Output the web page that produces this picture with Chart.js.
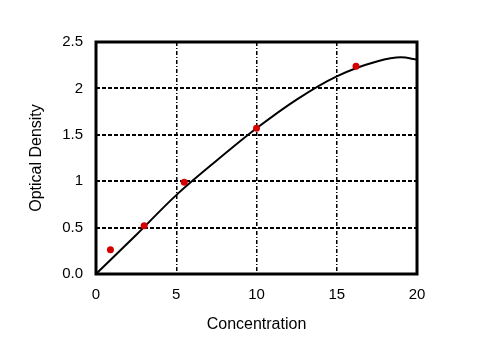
<!DOCTYPE html>
<html>
<head>
<meta charset="utf-8">
<script src="https://cdn.jsdelivr.net/npm/chart.js@4"></script>
<style>
  html, body { margin: 0; padding: 0; background: #fff; }
  #wrap { width: 484px; height: 340px; }
</style>
</head>
<body>
<div id="wrap"><canvas id="c" width="484" height="340"></canvas></div>
<script>
// Standard curve (fitted) and measured standards
const curveConc = [0, 2.5, 5, 7.5, 10, 12.5, 15, 17.5, 19, 20];
const curveOD   = [0, 0.42, 0.85, 1.22, 1.57, 1.88, 2.13, 2.29, 2.335, 2.31];
const stdConc   = [0.9, 3, 5.5, 10, 16.2];
const stdOD     = [0.26, 0.52, 0.99, 1.57, 2.24];
const xTicks    = [0, 5, 10, 15, 20];
const yTicks    = [0, 0.5, 1, 1.5, 2, 2.5];
const yTickLabels = ['0.0', '0.5', '1', '1.5', '2', '2.5'];

const toPts = (xs, ys) => xs.map((x, i) => ({ x: x, y: ys[i] }));

// Closed black frame around the plot area
const framePlugin = {
  id: 'frame',
  beforeDatasetsDraw(chart) {
    const { ctx, chartArea: a } = chart;
    ctx.save();
    ctx.strokeStyle = '#000';
    ctx.lineWidth = 3;
    ctx.strokeRect(a.left, a.top, a.right - a.left, a.bottom - a.top);
    ctx.restore();
  }
};

const tickFont = { family: 'Liberation Sans, Arial, sans-serif', size: 15 };
const titleFont = { family: 'Liberation Sans, Arial, sans-serif', size: 16 };

new Chart(document.getElementById('c'), {
  type: 'scatter',
  data: {
    datasets: [
      {
        data: toPts(curveConc, curveOD),
        showLine: true,
        borderColor: '#000',
        borderWidth: 2,
        pointRadius: 0,
        cubicInterpolationMode: 'monotone',
        order: 2
      },
      {
        data: toPts(stdConc, stdOD),
        showLine: false,
        pointRadius: 3.5,
        pointBackgroundColor: '#d40000',
        pointBorderColor: '#d40000',
        pointBorderWidth: 0,
        order: 1
      }
    ]
  },
  options: {
    responsive: false,
    animation: false,
    layout: { padding: { top: 42, right: 67, left: 0, bottom: 0 } },
    plugins: { legend: { display: false }, tooltip: { enabled: false } },
    scales: {
      x: {
        type: 'linear',
        min: 0, max: 20,
        afterBuildTicks(s) { s.ticks = xTicks.map(v => ({ value: v })); },
        afterFit(s) { s.height = 66; },
        ticks: { font: tickFont, color: '#000', padding: 12, maxRotation: 0 },
        grid: { color: '#000', lineWidth: 1.5, drawTicks: false },
        border: { display: false, dash: [4, 2, 1, 2] },
        title: { display: true, text: 'Concentration', font: titleFont, color: '#000', padding: { top: 0, bottom: 6 } }
      },
      y: {
        type: 'linear',
        min: 0, max: 2.5,
        afterBuildTicks(s) { s.ticks = yTicks.map(v => ({ value: v })); },
        afterFit(s) { s.width = 96; },
        ticks: {
          font: tickFont, color: '#000', padding: 13,
          callback: (v) => yTickLabels[yTicks.indexOf(v)]
        },
        grid: { color: '#000', lineWidth: 2, drawTicks: false },
        border: { display: false, dash: [4, 2] },
        title: { display: true, text: 'Optical Density', font: titleFont, color: '#000', padding: { top: 27, bottom: 0 } }
      }
    }
  },
  plugins: [framePlugin]
});
</script>
</body>
</html>
